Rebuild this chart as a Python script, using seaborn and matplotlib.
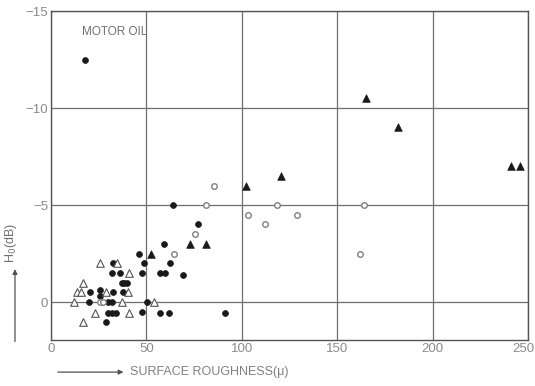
import matplotlib
matplotlib.use("Agg")
import matplotlib.pyplot as plt
import matplotlib.transforms as mtransforms
import seaborn as sns
import pandas as pd

# Surface roughness (micron) vs. H0 (dB), motor oil
filled_circle_x = [18, 64, 77, 59, 46, 48.7, 62.5, 32.5, 32, 36, 47.8, 57, 59.8, 69,
                   37, 38.5, 40, 20.3, 25.5, 25.5, 32.5, 37.5, 20, 30, 31.8, 50.3,
                   30, 32, 34, 47.8, 57, 62, 91, 28.8]
filled_circle_y = [-12.5, -5, -4, -3, -2.5, -2, -2, -2, -1.5, -1.5, -1.5, -1.5, -1.5, -1.4,
                   -1, -1, -1, -0.5, -0.6, -0.3, -0.5, -0.5, 0, 0, 0, 0,
                   0.55, 0.55, 0.55, 0.5, 0.55, 0.55, 0.55, 1.05]

open_circle_x = [85.5, 81, 75.5, 64.5, 103, 112, 118.5, 129, 164, 162, 25.7, 27.4]
open_circle_y = [-6, -5, -3.5, -2.5, -4.5, -4, -5, -4.5, -5, -2.5, 0, 0]

filled_tri_x = [52.4, 73, 81, 102, 120.5, 165, 182, 241, 246]
filled_tri_y = [-2.5, -3, -3, -6, -6.5, -10.5, -9, -7, -7]

open_tri_x = [25.7, 34.8, 40.7, 16.6, 13.5, 15.5, 29, 40.5, 12, 37.3, 54, 23, 40.7, 16.6]
open_tri_y = [-2, -2, -1.5, -1, -0.5, -0.5, -0.5, -0.5, 0, 0, 0, 0.55, 0.55, 1.05]

x_ticks = [0, 50, 100, 150, 200, 250]
y_ticks = [-15, -10, -5, 0]

sns.set_style("white")
plt.rcParams["font.family"] = ["Liberation Sans", "DejaVu Sans"]

fig = plt.figure(figsize=(5.35, 3.86), dpi=100)
ax = fig.add_axes([0.0953, 0.119, 0.8917, 0.8525])

groups = {
    "fc": (filled_circle_x, filled_circle_y),
    "oc": (open_circle_x, open_circle_y),
    "ft": (filled_tri_x, filled_tri_y),
    "ot": (open_tri_x, open_tri_y),
}
frames = [pd.DataFrame({"x": gx, "y": gy, "kind": k}) for k, (gx, gy) in groups.items()]
df = pd.concat(frames, ignore_index=True)

sns.scatterplot(data=df[df.kind == "fc"], x="x", y="y", ax=ax, marker="o",
                s=18, color="#1a1a1a", edgecolor="#1a1a1a", linewidth=0.5, zorder=3)
sns.scatterplot(data=df[df.kind == "oc"], x="x", y="y", ax=ax, marker="o",
                s=16, facecolor="white", edgecolor="#808080", linewidth=1.0, zorder=3)
sns.scatterplot(data=df[df.kind == "ft"], x="x", y="y", ax=ax, marker="^",
                s=30, color="#1a1a1a", edgecolor="#1a1a1a", linewidth=0.5, zorder=3)
sns.scatterplot(data=df[df.kind == "ot"], x="x", y="y", ax=ax, marker="^",
                s=30, facecolor="white", edgecolor="#555555", linewidth=0.8, zorder=3)

ax.set_xlim(0, 250)
ax.set_ylim(1.96, -15)
ax.set_xticks(x_ticks)
ax.set_yticks(y_ticks)
ax.set_xticklabels([str(v) for v in x_ticks])
ax.set_yticklabels(["\u221215", "\u221210", "\u22125", "0"])
ax.tick_params(axis="both", length=0, pad=2, labelsize=9.5, labelcolor="#8a8a8a")
# keep the last x label inside the canvas
last = ax.get_xticklabels()[-1]
last.set_transform(last.get_transform() +
                   mtransforms.ScaledTranslation(-5 / 100, 0, fig.dpi_scale_trans))
ax.grid(True, color="#6e6e6e", linewidth=0.9)
for sp in ax.spines.values():
    sp.set_color("#555555")
    sp.set_linewidth(1.0)
ax.set_xlabel("")
ax.set_ylabel("")

ax.text(16.2, -13.9, "MOTOR OIL", fontsize=8.5, color="#707070", va="center", ha="left")

# Axis captions with arrows
fig.text(0.243, 0.036, "SURFACE ROUGHNESS(\u03bc)", fontsize=9, color="#808080",
         ha="left", va="center")
fig.add_artist(matplotlib.patches.FancyArrowPatch(
    (0.103, 0.036), (0.236, 0.036), transform=fig.transFigure,
    arrowstyle="-|>", mutation_scale=7, color="#505050", linewidth=0.9))
fig.text(0.02, 0.37, "H$_0$(dB)", fontsize=9, color="#707070", rotation=90,
         ha="center", va="center")
fig.add_artist(matplotlib.patches.FancyArrowPatch(
    (0.028, 0.108), (0.028, 0.31), transform=fig.transFigure,
    arrowstyle="-|>", mutation_scale=7, color="#505050", linewidth=0.9))

fig.savefig("out.png", dpi=100)
